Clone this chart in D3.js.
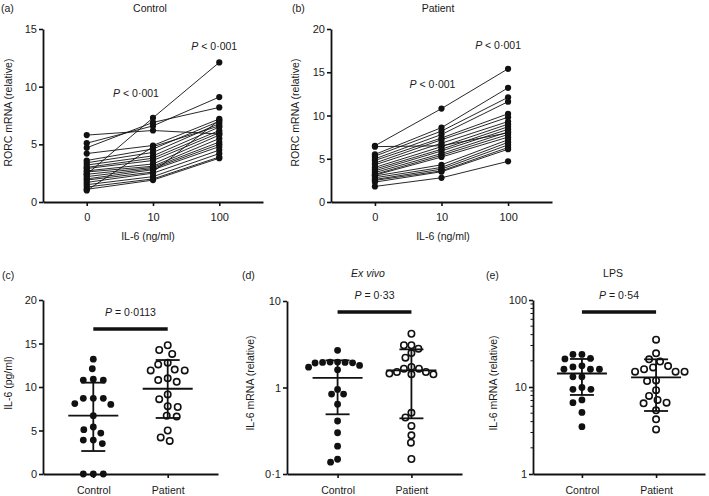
<!DOCTYPE html>
<html><head><meta charset="utf-8">
<script src="https://cdn.jsdelivr.net/npm/d3@7"></script>
<style>
body{margin:0;background:#fff}
text{font-family:"Liberation Sans",Arial,Helvetica,sans-serif;fill:#1a1a1a}
</style>
</head><body>
<svg id="c" width="709" height="496"></svg>
<script>
// ---------------- DATA ----------------
const doses = ["0", "10", "100"];
const rorcTicksA = [0, 5, 10, 15];
const rorcTicksB = [0, 5, 10, 15, 20];

// Panel (a) Control: RORC at IL-6 0, 10, 100 ng/ml (same subject index across arrays)
const controlRORC0   = [2.4, 5.8, 5.1, 4.7, 4.2, 3.6, 3.4, 3.2, 3.0, 2.9, 2.7, 2.6, 2.4, 2.2, 2.0, 1.9, 1.7, 1.5, 1.3, 1.1, 1.0];
const controlRORC10  = [7.3, 6.2, 6.6, 6.9, 4.9, 4.6, 4.3, 4.0, 3.8, 3.6, 3.3, 3.1, 3.0, 2.9, 2.8, 2.6, 2.5, 2.2, 2.0, 1.9, 4.8];
const controlRORC100 = [12.1, 5.9, 9.1, 8.2, 7.2, 7.0, 6.8, 6.5, 6.2, 6.0, 5.8, 5.5, 5.2, 5.0, 4.8, 7.1, 4.5, 4.2, 3.9, 3.8, 6.6];

// Panel (b) Patient
const patientRORC0   = [6.5, 6.4, 5.5, 5.3, 5.0, 4.8, 4.5, 4.3, 4.0, 3.8, 3.6, 3.4, 3.2, 3.1, 3.0, 2.8, 2.6, 2.5, 2.3, 1.8];
const patientRORC10  = [10.8, 6.5, 8.6, 8.2, 7.8, 7.4, 7.2, 6.8, 6.4, 6.1, 5.9, 5.6, 5.4, 5.2, 4.3, 4.0, 3.8, 3.6, 3.5, 2.8];
const patientRORC100 = [15.4, 8.0, 13.2, 12.1, 11.6, 10.2, 9.8, 9.3, 9.0, 8.7, 8.4, 8.1, 7.8, 7.5, 7.2, 6.9, 6.6, 6.3, 6.1, 4.7];

const groups = ["Control", "Patient"];

// Panel (c) IL-6 (pg/ml)
const il6ProteinControl = [13.2, 12.1, 10.8, 10.8, 10.9, 8.7, 8.7, 8.0, 8.1, 8.7, 6.7, 5.4, 4.7, 5.1, 3.9, 3.5, 3.9, 0, 0, 0];
const il6ProteinPatient = [14.8, 13.8, 14.25, 12.8, 12.0, 11.9, 11.9, 12.6, 11.0, 10.6, 10.8, 9.15, 8.6, 7.8, 7.7, 6.7, 6.6, 5.0, 3.8, 4.2];
const il6ProteinMean = [6.7, 9.8];
const il6ProteinLow  = [2.64, 6.44];
const il6ProteinHigh = [10.5, 13.1];
const il6ProteinTicks = [0, 5, 10, 15, 20];

// Panel (d) Ex vivo IL-6 mRNA (relative)
const exVivoControl = [2.69, 1.97, 1.95, 1.97, 1.93, 1.95, 1.92, 1.8, 1.72, 1.6, 0.95, 0.84, 0.84, 0.64, 0.41, 0.30, 0.21, 0.148, 0.137];
const exVivoPatient = [4.18, 3.08, 3.08, 2.81, 2.5, 2.21, 1.73, 1.65, 1.65, 1.51, 1.51, 1.45, 1.42, 1.42, 0.51, 0.45, 0.36, 0.28, 0.23, 0.149];
const exVivoMean = [1.29, 1.58];
const exVivoLow  = [0.49, 0.44];
const exVivoHigh = [2.06, 2.76];
const exVivoTicks = [0.1, 1, 10];
const exVivoTickLabels = ["0·1", "1", "10"];

// Panel (e) LPS IL-6 mRNA (relative)
const lpsControl = [23.7, 23.7, 21.3, 21.0, 17.5, 17.0, 16.0, 16.0, 16.0, 13.1, 13.1, 9.9, 9.4, 9.4, 7.1, 6.6, 5.1, 3.5];
const lpsPatient = [35, 24.4, 20.8, 19.6, 17.4, 16.8, 16.0, 15.0, 15.0, 15.0, 11.9, 11.7, 9.2, 7.9, 7.1, 6.6, 6.5, 5.4, 4.25, 3.25];
const lpsMean = [14.3, 12.9];
const lpsLow  = [8.1, 5.3];
const lpsHigh = [21.0, 20.8];
const lpsTicks = [1, 10, 100];
const lpsTickLabels = ["1", "10", "100"];

const pTexts = ["P < 0·001", "P = 0·0113", "P = 0·33", "P = 0·54"];

// ---------------- DRAWING ----------------
const svg = d3.select("#c");
const INK = "#111";

function styleAxis(g) {
  g.select(".domain").attr("stroke", INK).attr("stroke-width", 1.8);
  g.selectAll(".tick line").attr("stroke", INK).attr("stroke-width", 1.6);
  g.selectAll(".tick text").style("font-size", "11px").attr("fill", "#1a1a1a");
}
function label(x, y, txt, opts = {}) {
  const t = svg.append("text").attr("x", x).attr("y", y)
    .attr("text-anchor", opts.anchor || "middle")
    .style("font-size", (opts.size || 10.5) + "px").text(txt);
  if (opts.italic) t.style("font-style", "italic");
  return t;
}
function yTitle(x, yc, txt) {
  svg.append("text").attr("transform", `translate(${x},${yc}) rotate(-90)`)
    .attr("text-anchor", "middle").attr("dy", "0.35em")
    .style("font-size", "10.5px").text(txt);
}
function pText(x, y, txt) {
  const t = svg.append("text").attr("x", x).attr("y", y).attr("text-anchor", "middle").style("font-size", "10.5px");
  t.append("tspan").style("font-style", "italic").text(txt.slice(0, 1));
  t.append("tspan").text(txt.slice(1));
}

function paired(o) {
  const x = d3.scalePoint().domain(doses).range([o.x0, o.x1]).padding(0.66);
  const y = d3.scaleLinear().domain([0, o.ticks[o.ticks.length - 1]]).range([o.yb, o.yt]);
  const g = svg.append("g");
  const line = d3.line().x(d => x(d[0])).y(d => y(d[1]));
  const n = o.series[0].length;
  for (let i = 0; i < n; i++) {
    g.append("path").attr("d", line(doses.map((d, k) => [d, o.series[k][i]])))
      .attr("fill", "none").attr("stroke", INK).attr("stroke-width", 0.9);
  }
  doses.forEach((d, k) => {
    g.selectAll(null).data(o.series[k]).join("circle")
      .attr("cx", x(d)).attr("cy", v => y(v)).attr("r", 3.1).attr("fill", INK);
  });
  svg.append("g").attr("transform", `translate(0,${o.yb})`)
    .call(d3.axisBottom(x).tickSize(4).tickSizeOuter(0).tickPadding(7)).call(styleAxis);
  svg.append("g").attr("transform", `translate(${o.x0},0)`)
    .call(d3.axisLeft(y).tickValues(o.ticks).tickSize(4).tickSizeOuter(0).tickPadding(2)).call(styleAxis);
  label(o.xTitleX, 240, "IL-6 (ng/ml)");
  yTitle(o.yTitleX, (o.yb + o.yt) / 2 - 3, "RORC mRNA (relative)");
  pText(x("10") + o.p1dx, o.p1y, pTexts[0]);
  pText(x("100") + o.p2dx, o.p2y, pTexts[0]);
}

function swarm(ys, minD) {
  const order = ys.map((v, i) => i).sort((a, b) => ys[a] - ys[b]);
  const placed = [];
  const off = new Array(ys.length).fill(0);
  order.forEach(i => {
    let chosen = 0;
    outer: for (let m = 0; m < 80; m += 0.5) {
      for (const c of (m === 0 ? [0] : [-m, m])) {
        let ok = true;
        for (const p of placed) {
          const dx = c - p[0], dy = ys[i] - p[1];
          if (dx * dx + dy * dy < minD * minD) { ok = false; break; }
        }
        if (ok) { chosen = c; break outer; }
      }
    }
    off[i] = chosen;
    placed.push([chosen, ys[i]]);
  });
  return off;
}

function scatter(o) {
  const x = d3.scalePoint().domain(groups).range([o.x0, o.x1]).padding(o.pad);
  const y = (o.log ? d3.scaleLog() : d3.scaleLinear()).domain(o.dom).range([474, o.yt]);
  const g = svg.append("g");
  [o.a, o.b].forEach((vals, k) => {
    const ys = vals.map(v => y(Math.max(v, o.dom[0])));
    const off = swarm(ys, o.minD);
    const cx = x(groups[k]);
    g.selectAll(null).data(vals).join("circle")
      .attr("cx", (v, i) => cx + off[i]).attr("cy", (v, i) => ys[i]).attr("r", k === 0 ? 3.4 : 3.2)
      .attr("fill", k === 0 ? INK : "#fff").attr("stroke", INK).attr("stroke-width", k === 0 ? 0 : 1.6);
    const mk = (x1, x2, y1, y2, w) => g.append("line").attr("x1", x1).attr("x2", x2).attr("y1", y1).attr("y2", y2)
      .attr("stroke", INK).attr("stroke-width", w || 1.8);
    mk(cx, cx, y(o.low[k]), y(o.high[k]));
    mk(cx - 25, cx + 25, y(o.mean[k]), y(o.mean[k]));
    mk(cx - 12, cx + 12, y(o.low[k]), y(o.low[k]));
    mk(cx - 12, cx + 12, y(o.high[k]), y(o.high[k]));
  });
  // significance bar
  g.append("line").attr("x1", x(groups[0])).attr("x2", x(groups[1])).attr("y1", o.barY).attr("y2", o.barY)
    .attr("stroke", INK).attr("stroke-width", 3.6);
  pText((x(groups[0]) + x(groups[1])) / 2, o.barY - 13, o.p);

  svg.append("g").attr("transform", "translate(0,474)")
    .call(d3.axisBottom(x).tickSize(4).tickSizeOuter(0).tickPadding(9)).call(styleAxis)
    .selectAll(".tick text").style("font-size", "10.5px");
  const ya = d3.axisLeft(y).tickValues(o.ticks).tickSize(4).tickSizeOuter(0).tickPadding(2);
  if (o.tickLabels) ya.tickFormat((d, i) => o.tickLabels[i]);
  svg.append("g").attr("transform", `translate(${o.x0},0)`).call(ya).call(styleAxis);
  if (o.minor) {
    const minors = [];
    o.ticks.slice(0, -1).forEach(t => { for (let m = 2; m <= 9; m++) minors.push(t * m); });
    svg.append("g").selectAll("line").data(minors).join("line")
      .attr("x1", o.x0 - 2.5).attr("x2", o.x0).attr("y1", d => y(d)).attr("y2", d => y(d))
      .attr("stroke", INK).attr("stroke-width", 1);
  }
  yTitle(o.yTitleX, 383, o.yTitle);
}

// Panel labels and titles
label(1, 12, "(a)", { anchor: "start" });
label(150, 12, "Control");
label(292, 12, "(b)", { anchor: "start" });
label(438, 12, "Patient");
label(2, 279, "(c)", { anchor: "start" });
label(242, 279, "(d)", { anchor: "start" });
label(368, 277, "Ex vivo", { italic: true });
label(486, 279, "(e)", { anchor: "start" });
label(613, 277, "LPS");

paired({ x0: 43, x1: 263, yb: 202, yt: 29, ticks: rorcTicksA,
  series: [controlRORC0, controlRORC10, controlRORC100],
  xTitleX: 148, yTitleX: 8, p1dx: -17, p1y: 97, p2dx: -5, p2y: 50 });
paired({ x0: 331, x1: 552, yb: 202, yt: 29, ticks: rorcTicksB,
  series: [patientRORC0, patientRORC10, patientRORC100],
  xTitleX: 443, yTitleX: 295, p1dx: -9, p1y: 88, p2dx: -10, p2y: 49 });

scatter({ x0: 43, x1: 218, pad: 0.676, dom: [0, 20], yt: 300, ticks: il6ProteinTicks, minD: 9.6,
  a: il6ProteinControl, b: il6ProteinPatient, mean: il6ProteinMean, low: il6ProteinLow, high: il6ProteinHigh,
  barY: 329, p: pTexts[1], yTitleX: 8, yTitle: "IL-6 (pg/ml)" });
scatter({ x0: 287, x1: 462, pad: 0.685, log: true, dom: [0.1, 10], yt: 301, ticks: exVivoTicks, tickLabels: exVivoTickLabels, minD: 7.4,
  a: exVivoControl, b: exVivoPatient, mean: exVivoMean, low: exVivoLow, high: exVivoHigh,
  barY: 312, p: pTexts[2], yTitleX: 250, yTitle: "IL-6 mRNA (relative)" });
scatter({ x0: 533, x1: 705, pad: 0.66, log: true, dom: [1, 100], yt: 300, ticks: lpsTicks, tickLabels: lpsTickLabels, minor: true, minD: 9,
  a: lpsControl, b: lpsPatient, mean: lpsMean, low: lpsLow, high: lpsHigh,
  barY: 312, p: pTexts[3], yTitleX: 493, yTitle: "IL-6 mRNA (relative)" });
</script>
</body></html>
